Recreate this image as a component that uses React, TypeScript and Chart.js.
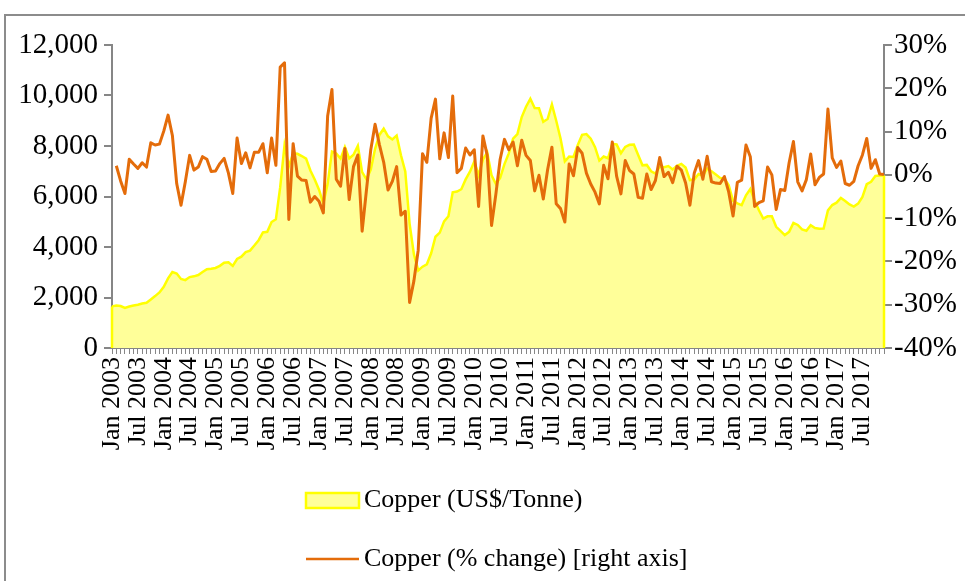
import React, { useEffect, useRef } from "react";
import { Chart, registerables } from "chart.js";

Chart.register(...registerables);

// ---- Data ----
const MONTHS = ["Jan", "Feb", "Mar", "Apr", "May", "Jun", "Jul", "Aug", "Sep", "Oct", "Nov", "Dec"];
const YEARS = [2003, 2004, 2005, 2006, 2007, 2008, 2009, 2010, 2011, 2012, 2013, 2014, 2015, 2016, 2017];
const categories: string[] = [];
YEARS.forEach((y) => MONTHS.forEach((m) => categories.push(`${m} ${y}`)));

// Copper price, US$/Tonne (monthly)
const copperPrice = [
  1648, 1683, 1660, 1588, 1645, 1686, 1711, 1759, 1790, 1922, 2055, 2201,
  2424, 2759, 3009, 2950, 2733, 2688, 2808, 2838, 2889, 3009, 3118, 3142,
  3170, 3254, 3379, 3394, 3249, 3525, 3615, 3798, 3858, 4059, 4270, 4577,
  4600, 4990, 5100, 6370, 8020, 7197, 7712, 7692, 7602, 7500, 7029, 6675,
  6270, 5720, 6500, 7780, 7700, 7500, 7959, 7509, 7655, 8005, 6964, 6680,
  7061, 7888, 8439, 8685, 8382, 8260, 8414, 7633, 6991, 4926, 3717, 3072,
  3221, 3315, 3750, 4407, 4569, 5014, 5216, 6165, 6196, 6288, 6676, 6982,
  7386, 6848, 7463, 7745, 6838, 6499, 6735, 7284, 7709, 8292, 8470, 9147,
  9556, 9868, 9503, 9493, 8960, 9067, 9651, 9001, 8300, 7394, 7581, 7566,
  8040, 8441, 8471, 8290, 7955, 7423, 7584, 7515, 8088, 8062, 7711, 7966,
  8047, 8061, 7645, 7234, 7250, 7000, 6907, 7186, 7159, 7203, 7071, 7215,
  7291, 7149, 6650, 6674, 6891, 6821, 7113, 7002, 6872, 6737, 6713, 6446,
  5831, 5729, 5660, 6050, 6300, 5833, 5457, 5127, 5217, 5216, 4800, 4639,
  4472, 4599, 4954, 4873, 4695, 4642, 4864, 4751, 4723, 4731, 5450, 5660,
  5755, 5941, 5825, 5684, 5600, 5720, 5985, 6486, 6581, 6812, 6827, 6834,
];

// Copper month-on-month change, %
const copperChange = [
  null, 2.1, -1.4, -4.3, 3.6, 2.5, 1.5, 2.8, 1.8, 7.4, 6.9, 7.1,
  10.1, 13.8, 9.1, -2.0, -7.0, -1.6, 4.5, 1.1, 1.8, 4.2, 3.6, 0.8,
  0.9, 2.6, 3.8, 0.4, -4.3, 8.5, 2.6, 5.1, 1.6, 5.2, 5.2, 7.2,
  0.5, 8.5, 2.2, 24.9, 25.9, -10.3, 7.2, -0.3, -1.2, -1.3, -6.3, -5.0,
  -6.1, -8.8, 13.6, 19.7, -1.0, -2.6, 6.1, -5.7, 1.9, 4.6, -13.0, -3.5,
  5.8, 11.7, 7.0, 2.9, -3.5, -1.5, 1.9, -9.3, -8.4, -29.5, -24.5, -17.4,
  4.9, 2.9, 13.1, 17.5, 3.7, 9.7, 4.0, 18.2, 0.5, 1.5, 6.2, 4.6,
  5.8, -7.3, 9.0, 4.5, -11.7, -4.5, 3.6, 8.2, 5.8, 7.6, 2.1, 8.0,
  4.5, 3.3, -3.7, -0.1, -5.6, 1.2, 6.4, -6.7, -7.8, -10.9, 2.5, -0.2,
  6.3, 5.0, 0.4, -2.1, -4.0, -6.7, 2.2, -0.9, 7.6, -0.3, -4.4, 3.3,
  1.0, 0.2, -5.2, -5.4, 0.2, -3.4, -1.3, 4.0, -0.4, 0.6, -1.8, 2.0,
  1.1, -1.9, -7.0, 0.4, 3.3, -1.0, 4.3, -1.6, -1.9, -2.0, -0.4, -4.0,
  -9.5, -1.7, -1.2, 6.9, 4.2, -7.3, -6.4, -6.0, 1.8, 0.0, -8.0, -3.4,
  -3.6, 2.8, 7.7, -1.6, -3.7, -1.1, 4.8, -2.3, -0.6, 0.2, 15.2, 3.9,
  1.7, 3.2, -2.0, -2.4, -1.5, 2.1, 4.6, 8.4, 1.5, 3.5, 0.2, 0.1,
];

const priceAxis = { min: 0, max: 12000, step: 2000 };
const changeAxis = { min: -40, max: 30, step: 10 };
const seriesNames = ["Copper (% change) [right axis]", "Copper (US$/Tonne)"];

// ---- Styles ----
const FONT = '"Liberation Serif", "Times New Roman", serif';
const GREY = "#868686";
const ORANGE = "#E46C0A";
const AREA_FILL = "#FFFF99";
const AREA_LINE = "#FFFF00";

const areaEdges = {
  id: "areaEdges",
  afterDatasetDraw(chart: any, args: any) {
    if (args.index !== 1) return;
    const pts = args.meta.data;
    if (!pts.length) return;
    const y0 = chart.scales.y.getPixelForValue(0);
    const ctx = chart.ctx;
    ctx.save();
    ctx.strokeStyle = AREA_LINE;
    ctx.lineWidth = 2.5;
    [pts[0], pts[pts.length - 1]].forEach((p: any) => {
      ctx.beginPath();
      ctx.moveTo(p.x, p.y);
      ctx.lineTo(p.x, y0);
      ctx.stroke();
    });
    ctx.restore();
  },
};

const customLegend = {
  id: "customLegend",
  afterDraw(chart: any) {
    const ctx = chart.ctx;
    const ds = chart.data.datasets;
    ctx.save();
    ctx.font = `26px ${FONT}`;
    ctx.textBaseline = "middle";
    ctx.textAlign = "left";
    // area item
    ctx.fillStyle = AREA_FILL;
    ctx.fillRect(306, 493, 53, 15);
    ctx.strokeStyle = AREA_LINE;
    ctx.lineWidth = 2.5;
    ctx.strokeRect(306, 493, 53, 15);
    ctx.fillStyle = "#000";
    ctx.fillText(ds[1].label, 364, 500);
    // line item
    ctx.strokeStyle = ORANGE;
    ctx.lineWidth = 2.5;
    ctx.beginPath();
    ctx.moveTo(306, 559);
    ctx.lineTo(359, 559);
    ctx.stroke();
    ctx.fillStyle = "#000";
    ctx.fillText(ds[0].label, 364, 559);
    ctx.restore();
  },
};

export default function App() {
  const canvasRef = useRef<HTMLCanvasElement | null>(null);

  useEffect(() => {
    if (!canvasRef.current) return;
    const chart = new Chart(canvasRef.current, {
      type: "line",
      data: {
        labels: categories,
        datasets: [
          {
            label: seriesNames[0],
            data: copperChange,
            yAxisID: "y1",
            borderColor: ORANGE,
            backgroundColor: ORANGE,
            borderWidth: 3,
            borderJoinStyle: "round",
            pointRadius: 0,
            fill: false,
            tension: 0,
            spanGaps: false,
          },
          {
            label: seriesNames[1],
            data: copperPrice,
            yAxisID: "y",
            borderColor: AREA_LINE,
            backgroundColor: AREA_FILL,
            borderWidth: 2.5,
            pointRadius: 0,
            fill: "origin",
            tension: 0,
          },
        ],
      } as any,
      options: {
        animation: false,
        responsive: true,
        maintainAspectRatio: false,
        events: [],
        layout: { padding: { left: 0, right: 0, top: 45, bottom: 108 } },
        plugins: {
          legend: { display: false },
          tooltip: { enabled: false },
          title: { display: false },
        },
        scales: {
          x: {
            type: "category",
            offset: false,
            grid: {
              display: true,
              drawOnChartArea: false,
              drawTicks: true,
              tickLength: 6,
              color: GREY,
              lineWidth: 1,
            },
            border: { display: true, color: GREY, width: 2 },
            ticks: {
              autoSkip: false,
              minRotation: 90,
              maxRotation: 90,
              padding: 3,
              color: "#000",
              font: { family: FONT, size: 26 },
              callback: (_v: any, i: number) => (i % 6 === 0 ? categories[i] : ""),
            },
            afterFit: (s: any) => {
              s.height = 125;
            },
          },
          y: {
            position: "left",
            min: priceAxis.min,
            max: priceAxis.max,
            grid: {
              drawOnChartArea: false,
              drawTicks: true,
              tickLength: 8,
              color: GREY,
              lineWidth: 2,
            },
            border: { display: true, color: GREY, width: 2 },
            ticks: {
              stepSize: priceAxis.step,
              padding: 6,
              color: "#000",
              font: { family: FONT, size: 29 },
              callback: (v: any) => Number(v).toLocaleString("en-US"),
            },
            afterFit: (s: any) => {
              s.width = 112;
            },
          },
          y1: {
            position: "right",
            min: changeAxis.min,
            max: changeAxis.max,
            grid: {
              drawOnChartArea: false,
              drawTicks: true,
              tickLength: 8,
              color: GREY,
              lineWidth: 2,
            },
            border: { display: true, color: GREY, width: 2 },
            ticks: {
              stepSize: changeAxis.step,
              padding: 2,
              color: "#000",
              font: { family: FONT, size: 29 },
              callback: (v: any) => `${v}%`,
            },
            afterFit: (s: any) => {
              s.width = 81;
            },
          },
        },
      } as any,
      plugins: [areaEdges, customLegend],
    });
    return () => chart.destroy();
  }, []);

  return (
    <div
      style={{
        position: "fixed",
        left: 0,
        top: 0,
        width: 965,
        height: 581,
        overflow: "hidden",
        background: "#fff",
      }}
    >
      <div
        style={{
          position: "absolute",
          left: 4,
          top: 14,
          width: 1000,
          height: 700,
          borderLeft: "2px solid #8c8c8c",
          borderTop: "2px solid #8c8c8c",
        }}
      />
      <div style={{ position: "absolute", left: 0, top: 0, width: 965, height: 581 }}>
        <canvas ref={canvasRef} />
      </div>
    </div>
  );
}
